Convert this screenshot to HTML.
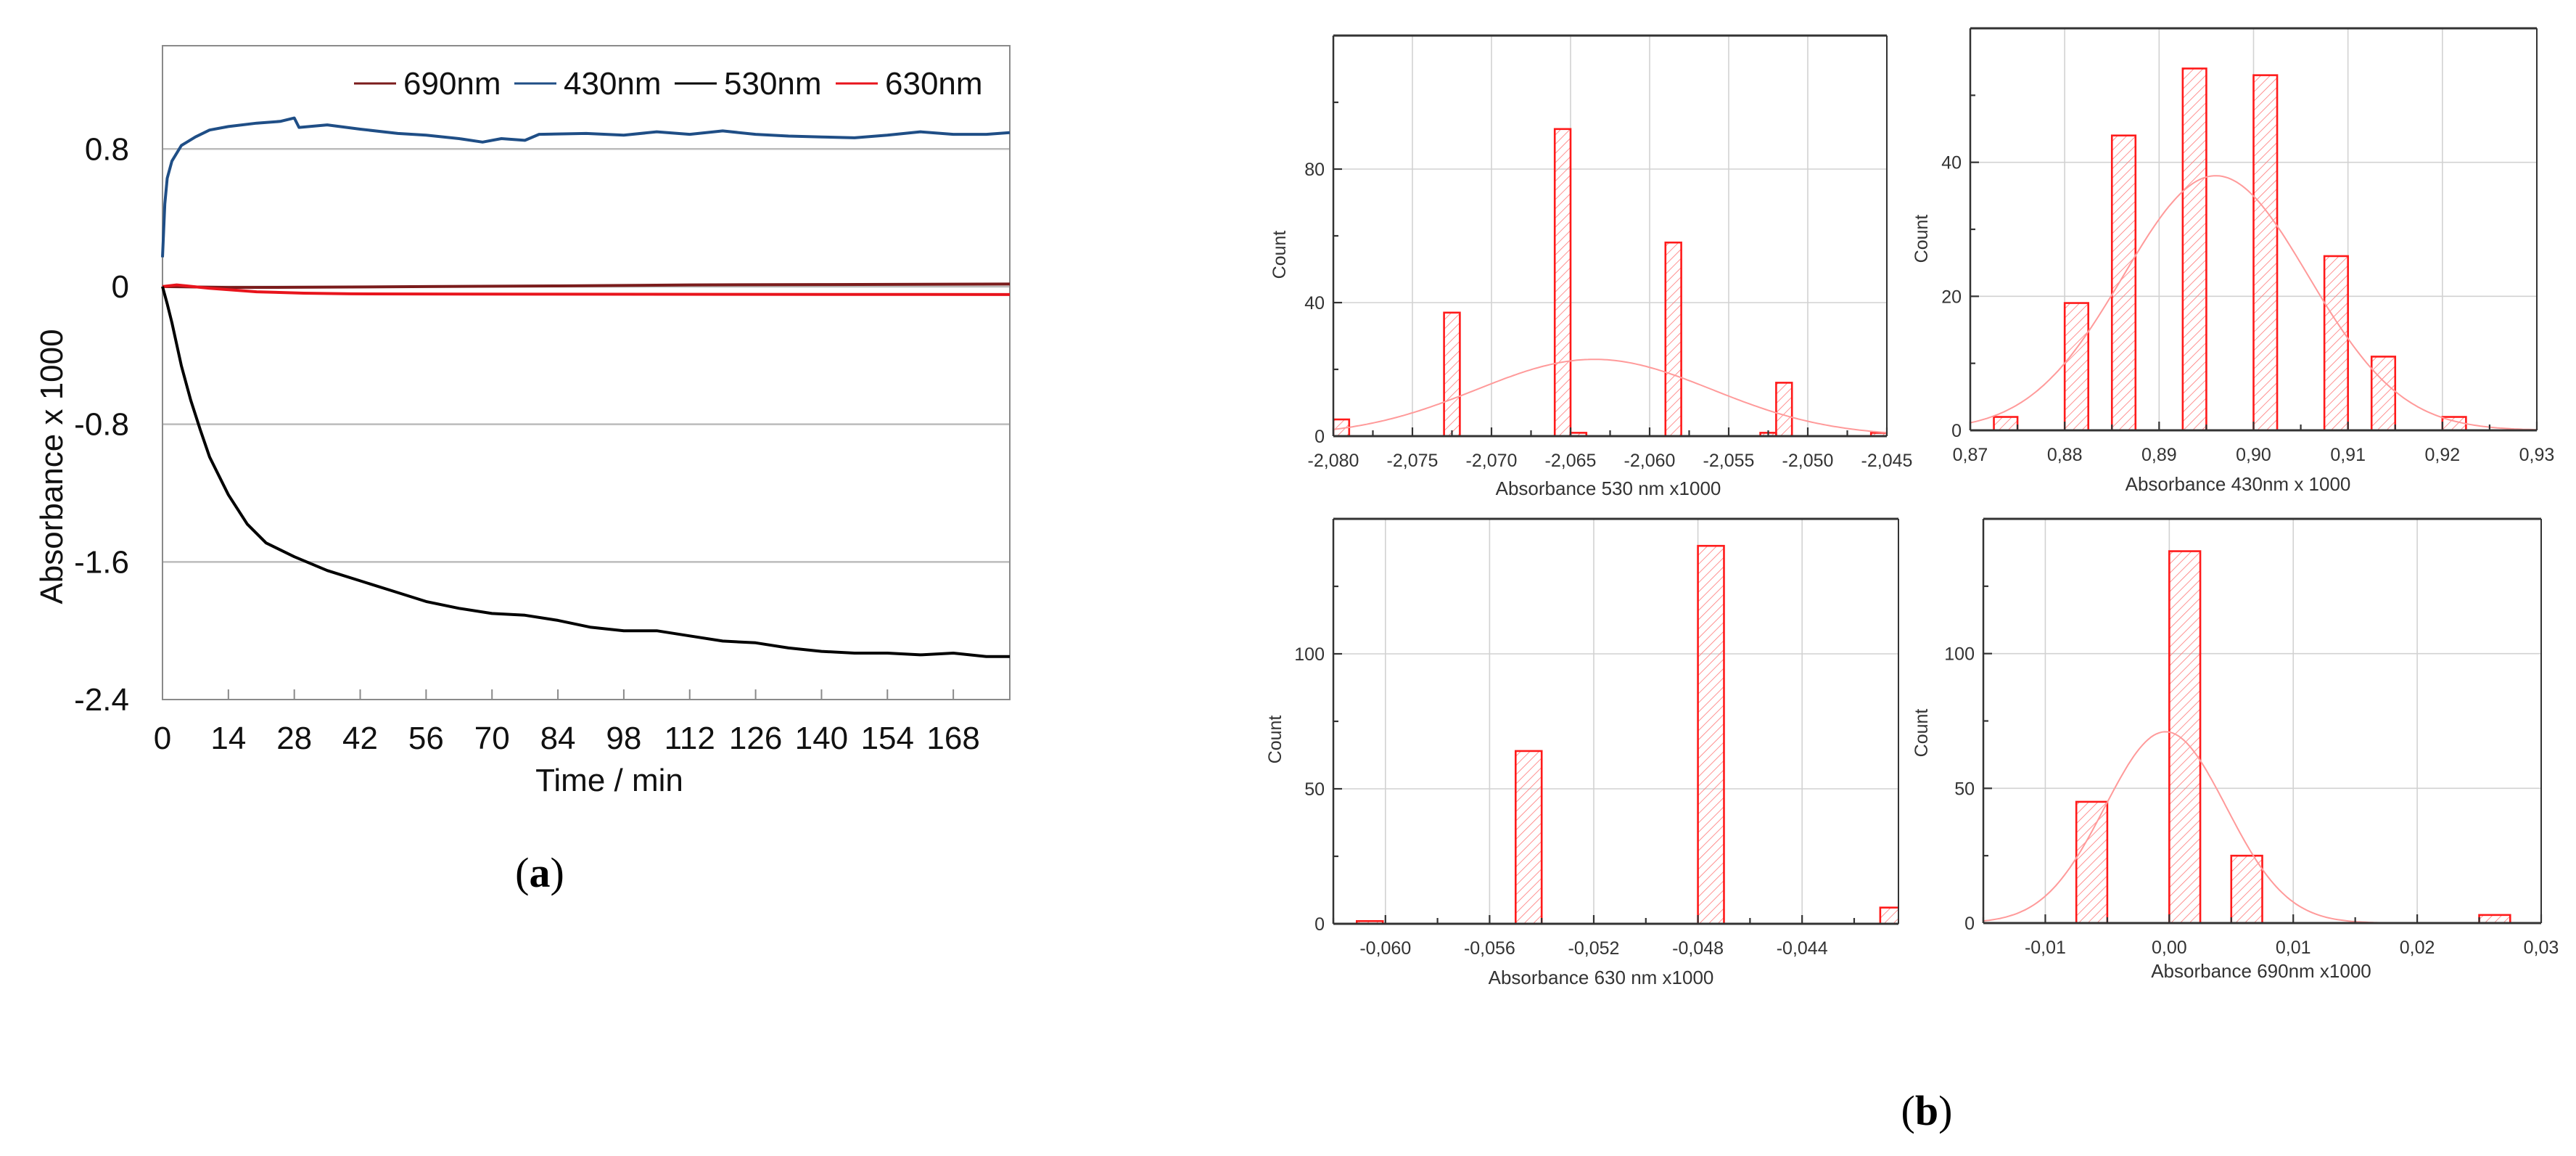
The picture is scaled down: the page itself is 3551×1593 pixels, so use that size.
<!DOCTYPE html>
<html><head><meta charset="utf-8"><style>
body{margin:0;background:#fff}
svg{display:block}
text{font-family:"Liberation Sans",sans-serif}
</style></head><body>
<svg id="root" width="3551" height="1593" viewBox="0 0 3551 1593" xmlns="http://www.w3.org/2000/svg">
<defs>
<pattern id="hatch" patternUnits="userSpaceOnUse" width="9" height="9" patternTransform="rotate(45)">
<line x1="0" y1="0" x2="0" y2="9" stroke="#f77" stroke-width="1.6"/>
</pattern>
</defs>
<g id="panelA"></g>
<g id="panelB"></g>
<text x="744" y="1222" font-size="58" text-anchor="middle" style="font-family:'Liberation Serif',serif">(<tspan font-weight="bold">a</tspan>)</text>
<text x="2656" y="1550" font-size="58" text-anchor="middle" style="font-family:'Liberation Serif',serif">(<tspan font-weight="bold">b</tspan>)</text>
</svg>
<script>
// ---------- Panel A data ----------
const aXTicks = [0,14,28,42,56,70,84,98,112,126,140,154,168];
const aYTicks = [0.8,0,-0.8,-1.6,-2.4];
const aYTickLabels = ["0.8","0","-0.8","-1.6","-2.4"];
const seriesNames = ["690nm","430nm","530nm","630nm"];
const t430 = [0,0.5,1,2,4,7,10,14,20,25,28,29,35,42,50,56,63,68,72,77,80,90,98,105,112,119,126,133,140,147,154,161,168,175,180];
const v430 = [0.17,0.48,0.63,0.73,0.82,0.87,0.91,0.93,0.95,0.96,0.98,0.925,0.94,0.915,0.89,0.88,0.86,0.84,0.86,0.85,0.885,0.89,0.88,0.90,0.885,0.905,0.885,0.875,0.87,0.865,0.88,0.90,0.885,0.885,0.895];
const t530 = [0,1,2,4,6,8,10,14,18,22,28,35,42,49,56,63,70,77,84,91,98,105,112,119,126,133,140,147,154,161,168,175,180];
const v530 = [0,-0.10,-0.21,-0.46,-0.66,-0.83,-0.99,-1.21,-1.38,-1.49,-1.57,-1.65,-1.71,-1.77,-1.83,-1.87,-1.90,-1.91,-1.94,-1.98,-2.00,-2.00,-2.03,-2.06,-2.07,-2.10,-2.12,-2.13,-2.13,-2.14,-2.13,-2.15,-2.15];
const t690 = [0,14,28,56,84,112,140,180];
const v690 = [0,-0.005,-0.004,0,0.004,0.01,0.012,0.015];
const t630 = [0,3,10,20,30,40,80,120,180];
const v630 = [0,0.01,-0.01,-0.03,-0.038,-0.042,-0.044,-0.045,-0.046];

// ---------- Panel B data ----------
const h1BinStart = [-2.0800,-2.0730,-2.0660,-2.0650,-2.0590,-2.0530,-2.0520,-2.0460];
const h1Counts = [5,37,92,1,58,1,16,1];
const h1XTicks = [-2.080,-2.075,-2.070,-2.065,-2.060,-2.055,-2.050,-2.045];
const h1XLabels = ["-2,080","-2,075","-2,070","-2,065","-2,060","-2,055","-2,050","-2,045"];
const h1YTicks = [0,40,80];
const h1Fit = [-2.0635,0.00745,23];

const h2BinStart = [0.8725,0.8800,0.8850,0.8925,0.9000,0.9075,0.9125,0.9200];
const h2Counts = [2,19,44,54,53,26,11,2];
const h2XTicks = [0.87,0.88,0.89,0.90,0.91,0.92,0.93];
const h2XLabels = ["0,87","0,88","0,89","0,90","0,91","0,92","0,93"];
const h2YTicks = [0,20,40];
const h2Fit = [0.896,0.0098,38];

const h3BinStart = [-0.0611,-0.0550,-0.0480,-0.0410];
const h3Counts = [1,64,140,6];
const h3XTicks = [-0.060,-0.056,-0.052,-0.048,-0.044];
const h3XLabels = ["-0,060","-0,056","-0,052","-0,048","-0,044"];
const h3YTicks = [0,50,100];

const h4BinStart = [-0.0075,0.0000,0.0050,0.0250];
const h4Counts = [45,138,25,3];
const h4XTicks = [-0.01,0.00,0.01,0.02,0.03];
const h4XLabels = ["-0,01","0,00","0,01","0,02","0,03"];
const h4YTicks = [0,50,100];
const h4Fit = [-0.0003,0.0049,71];

const NS="http://www.w3.org/2000/svg";
function mk(parent,tag,attrs,text){const e=document.createElementNS(NS,tag);for(const k in attrs)e.setAttribute(k,attrs[k]);if(text!==undefined)e.textContent=text;parent.appendChild(e);return e;}

// ---------- Panel A ----------
(function(){
const g=document.getElementById('panelA');
const L=224,R=1392,T=63,B=964, X0=0,X1=180,Y0=-2.4,Y1=1.4;
const sx=v=>L+(v-X0)/(X1-X0)*(R-L);
const sy=v=>B-(v-Y0)/(Y1-Y0)*(B-T);
aYTicks.forEach((v,i)=>{
  if(v>-2.4){const gl=mk(g,'line',{x1:L,x2:R,y1:sy(v),y2:sy(v),stroke:'#bcbcbc','stroke-width':2.5});
  }
  const tl=mk(g,'text',{x:178,y:sy(v)+15,'font-size':44,'text-anchor':'end',fill:'#111'},aYTickLabels[i]);
  
});
const fr=mk(g,'rect',{x:L,y:T,width:R-L,height:B-T,fill:'none',stroke:'#8a8a8a','stroke-width':2});

aXTicks.forEach(v=>{
  const tk=mk(g,'line',{x1:sx(v),x2:sx(v),y1:B,y2:B-14,stroke:'#8a8a8a','stroke-width':2});
  
  const tl=mk(g,'text',{x:sx(v),y:1032,'font-size':44,'text-anchor':'middle',fill:'#111'},String(v));
  
});
const xt=mk(g,'text',{x:840,y:1090,'font-size':44,'text-anchor':'middle',fill:'#111'},'Time / min');

const yt=mk(g,'text',{x:0,y:0,'font-size':44,'text-anchor':'middle',fill:'#111',transform:'translate(86,643) rotate(-90)'},'Absorbance x 1000');

const series=[[t690,v690,'#7b1c1c','series-690nm'],[t630,v630,'#e8141c','series-630nm'],[t430,v430,'#1f4e86','series-430nm'],[t530,v530,'#000','series-530nm']];
series.forEach(s=>{
  const d=s[0].map((t,i)=>(i?'L':'M')+sx(t).toFixed(1)+','+sy(s[1][i]).toFixed(1)).join(' ');
  const p=mk(g,'path',{d:d,fill:'none',stroke:s[2],'stroke-width':4,'stroke-linejoin':'round'});
  
});
const legCols=['#7b1c1c','#1f4e86','#000','#e8141c'];
const legX=[488,709,930,1152];
seriesNames.forEach((n,i)=>{
  const lg=mk(g,'g',{});
  
  mk(lg,'line',{x1:legX[i],x2:legX[i]+58,y1:115,y2:115,stroke:legCols[i],'stroke-width':3});
  mk(lg,'text',{x:legX[i]+68,y:130,'font-size':44,fill:'#111'},n);
});
})();

// ---------- Panel B ----------
function hist(cfg){
  const g=mk(document.getElementById('panelB'),'g',{});
  
  const {L,R,T,B,x0,x1,y1}=cfg;
  const sx=v=>L+(v-x0)/(x1-x0)*(R-L);
  const sy=v=>B-v/y1*(B-T);
  const clip='c'+cfg.name;
  const cp=mk(g,'clipPath',{id:clip});mk(cp,'rect',{x:L,y:T,width:R-L,height:B-T+3});
  cfg.xt.forEach(v=>{
    if(v>x0+1e-9&&v<x1-1e-9){const gl=mk(g,'line',{x1:sx(v),x2:sx(v),y1:T,y2:B,stroke:'#d2d2d2','stroke-width':1.6});
    }
  });
  cfg.yt.forEach(v=>{
    if(v>0){const gl=mk(g,'line',{x1:L,x2:R,y1:sy(v),y2:sy(v),stroke:'#d2d2d2','stroke-width':1.6});
    }
  });
  const bg=mk(g,'g',{'clip-path':'url(#'+clip+')'});
  cfg.bins.forEach((b,i)=>{
    const x=sx(b),w=sx(b+cfg.bw)-sx(b),y=sy(cfg.counts[i]);
    const r=mk(bg,'rect',{x:x,y:y,width:w,height:B-y,fill:'url(#hatch)',stroke:'#ff1a1a','stroke-width':2.6});
    
  });
  if(cfg.fit){
    const [m,s,a]=cfg.fit;let d='';
    for(let i=0;i<=200;i++){const v=x0+(x1-x0)*i/200;const c=a*Math.exp(-(v-m)*(v-m)/(2*s*s));d+=(i?'L':'M')+sx(v).toFixed(1)+','+sy(c).toFixed(1);}
    const p=mk(g,'path',{d:d,fill:'none',stroke:'#ff9a9a','stroke-width':2});
    
  }
  mk(g,'line',{x1:L,x2:R,y1:T,y2:T,stroke:'#333','stroke-width':3});
  mk(g,'line',{x1:R,x2:R,y1:T,y2:B,stroke:'#333','stroke-width':2});
  mk(g,'line',{x1:L,x2:L,y1:T,y2:B,stroke:'#333','stroke-width':2.5});
  mk(g,'line',{x1:L,x2:R,y1:B,y2:B,stroke:'#333','stroke-width':3});
  const dx=cfg.xt[1]-cfg.xt[0];
  for(let v=cfg.xt[0]-dx;v<=x1+dx;v+=dx/2){
    if(v<x0-1e-9||v>x1+1e-9)continue;
    const major=cfg.xt.some(t=>Math.abs(t-v)<dx*0.01);
    mk(g,'line',{x1:sx(v),x2:sx(v),y1:B,y2:B-(major?12:8),stroke:'#333','stroke-width':2.2});
  }
  cfg.xt.forEach((v,i)=>{
    const tl=mk(g,'text',{x:sx(v),y:B+42,'font-size':25,'text-anchor':'middle',fill:'#333'},cfg.xl[i]);
    
  });
  const dy=cfg.yt[1]-cfg.yt[0];
  for(let v=0;v<=y1+1e-9;v+=dy/2){
    const major=Math.abs(v/dy-Math.round(v/dy))<0.01;
    mk(g,'line',{x1:L,x2:L+(major?12:7),y1:sy(v),y2:sy(v),stroke:'#333','stroke-width':2.2});
  }
  cfg.yt.forEach(v=>{
    const tl=mk(g,'text',{x:L-12,y:sy(v)+9,'font-size':25,'text-anchor':'end',fill:'#333'},String(v));
    
  });
  const xt=mk(g,'text',{x:cfg.tx,y:cfg.ty,'font-size':26,'text-anchor':'middle',fill:'#333'},cfg.title);
  
  const yt=mk(g,'text',{x:0,y:0,'font-size':25,'text-anchor':'middle',fill:'#333',transform:'translate('+cfg.cx+','+cfg.cy+') rotate(-90)'},'Count');
  
}
hist({name:'histogram-530nm',L:1838,R:2601,T:49,B:601,x0:-2.080,x1:-2.045,y1:120,bins:h1BinStart,counts:h1Counts,bw:0.001,xt:h1XTicks,xl:h1XLabels,yt:h1YTicks,fit:h1Fit,title:'Absorbance 530 nm x1000',tx:2217,ty:682,cx:1772,cy:351});
hist({name:'histogram-430nm',L:2716,R:3497,T:39,B:593,x0:0.87,x1:0.93,y1:60,bins:h2BinStart,counts:h2Counts,bw:0.0025,xt:h2XTicks,xl:h2XLabels,yt:h2YTicks,fit:h2Fit,title:'Absorbance 430nm x 1000',tx:3085,ty:676,cx:2657,cy:329});
hist({name:'histogram-630nm',L:1838,R:2617,T:715,B:1273,x0:-0.0620,x1:-0.0403,y1:150,bins:h3BinStart,counts:h3Counts,bw:0.001,xt:h3XTicks,xl:h3XLabels,yt:h3YTicks,fit:null,title:'Absorbance 630 nm x1000',tx:2207,ty:1356,cx:1766,cy:1019});
hist({name:'histogram-690nm',L:2734,R:3503,T:715,B:1272,x0:-0.015,x1:0.03,y1:150,bins:h4BinStart,counts:h4Counts,bw:0.0025,xt:h4XTicks,xl:h4XLabels,yt:h4YTicks,fit:h4Fit,title:'Absorbance 690nm x1000',tx:3117,ty:1347,cx:2657,cy:1010});
</script>
</body></html>
